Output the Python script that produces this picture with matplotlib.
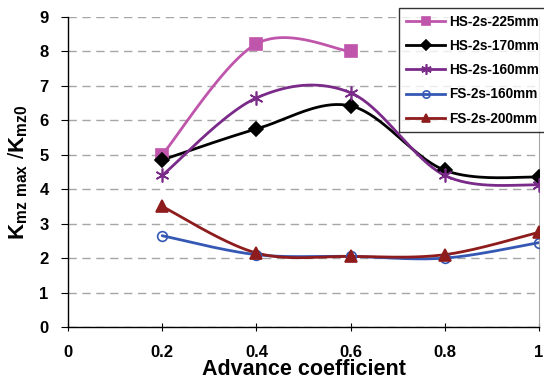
import numpy as np
import matplotlib
matplotlib.use("Agg")
import matplotlib.pyplot as plt

plt.rcParams['font.family'] = ['Liberation Sans', 'DejaVu Sans']
plt.rcParams['font.weight'] = 'bold'
plt.rcParams['mathtext.fontset'] = 'custom'
plt.rcParams['mathtext.rm'] = 'Liberation Sans'
plt.rcParams['mathtext.bf'] = 'Liberation Sans:bold'

advance = [0.2, 0.4, 0.6, 0.8, 1.0]
hs_225 = [5.0, 8.22, 8.0]
hs_170 = [4.85, 5.75, 6.42, 4.55, 4.35]
hs_160 = [4.4, 6.65, 6.8, 4.4, 4.12]
fs_160 = [2.65, 2.1, 2.05, 2.0, 2.45]
fs_200 = [3.5, 2.15, 2.05, 2.1, 2.75]

series = [
    ("HS-2s-225mm", hs_225, "#C055AC", "s", 8, {}),
    ("HS-2s-170mm", hs_170, "black", "D", 7, {}),
    ("HS-2s-160mm", hs_160, "#7A2A88", (6, 2, 0), 10, {}),
    ("FS-2s-160mm", fs_160, "#3558B4", "o", 7, {"markerfacecolor": "none"}),
    ("FS-2s-200mm", fs_200, "#8E1C1C", "^", 8, {}),
]


def smooth(xs, ys, n=40):
    # Catmull-Rom style bezier through the points, like a spreadsheet smoothed line
    pts = np.column_stack([xs, ys]).astype(float)
    out = [pts[0]]
    for i in range(len(pts) - 1):
        p0 = pts[i - 1] if i > 0 else pts[i]
        p1 = pts[i]
        p2 = pts[i + 1]
        p3 = pts[i + 2] if i + 2 < len(pts) else pts[i + 1]
        c1 = p1 + (p2 - p0) / 6.0
        c2 = p2 - (p3 - p1) / 6.0
        t = np.linspace(0, 1, n)[1:, None]
        seg = ((1 - t) ** 3) * p1 + 3 * ((1 - t) ** 2) * t * c1 + 3 * (1 - t) * t ** 2 * c2 + t ** 3 * p2
        out.extend(seg)
    out = np.array(out)
    return out[:, 0], out[:, 1]


fig = plt.figure(figsize=(5.44, 3.83), dpi=100)
ax = fig.add_axes([68 / 544, 1 - 327 / 383, 471 / 544, 310 / 383])

for label, vals, color, marker, ms, extra in series:
    xs = advance[:len(vals)]
    sx, sy = smooth(xs, vals)
    ax.plot(sx, sy, color=color, lw=2.0, solid_capstyle='round', zorder=3)
    ax.plot(xs, vals, linestyle='none', marker=marker, color=color, markersize=ms,
            markeredgewidth=1.2, zorder=4, **extra)
    ax.plot([], [], color=color, lw=2.0, marker=marker, markersize=ms,
            markeredgewidth=1.2, label=label, **extra)

ax.set_xlim(0, 1)
ax.set_ylim(0, 9)
ax.set_xticks([0, 0.2, 0.4, 0.6, 0.8, 1])
ax.set_xticklabels(["0", "0.2", "0.4", "0.6", "0.8", "1"])
ax.set_yticks(range(10))
ax.yaxis.grid(True, color='#A6A6A6', linestyle=(0, (6, 4)), lw=1.0)
ax.set_axisbelow(True)

ax.spines['top'].set_visible(False)
ax.spines['right'].set_color('#A6A6A6')
ax.spines['left'].set_linewidth(1.0)
ax.spines['bottom'].set_linewidth(1.0)
ax.tick_params(axis='x', direction='inout', length=6, labelsize=12, pad=10)
ax.tick_params(axis='y', direction='out', length=5, labelsize=12, pad=9)
for t in ax.get_xticklabels() + ax.get_yticklabels():
    t.set_fontweight('bold')

ax.set_xlabel("Advance coefficient", fontsize=15.5, fontweight='bold', labelpad=-1)
ax.set_ylabel(r"$\mathbf{K}_{\mathrm{mz\ max}}$ /$\mathbf{K}_{\mathrm{mz0}}$",
              fontsize=16, labelpad=7)

leg = ax.legend(loc='upper left', bbox_to_anchor=(399 / 544, 1 - 8 / 383),
                bbox_transform=fig.transFigure, fontsize=9.8, frameon=True,
                fancybox=False, edgecolor='black', borderpad=0.5,
                handlelength=2.9, labelspacing=0.75, handletextpad=0.25,
                borderaxespad=0, markerscale=0.75)
leg.get_frame().set_linewidth(1.0)
for t in leg.get_texts():
    t.set_fontweight('bold')

fig.savefig("out.png", dpi=100)
